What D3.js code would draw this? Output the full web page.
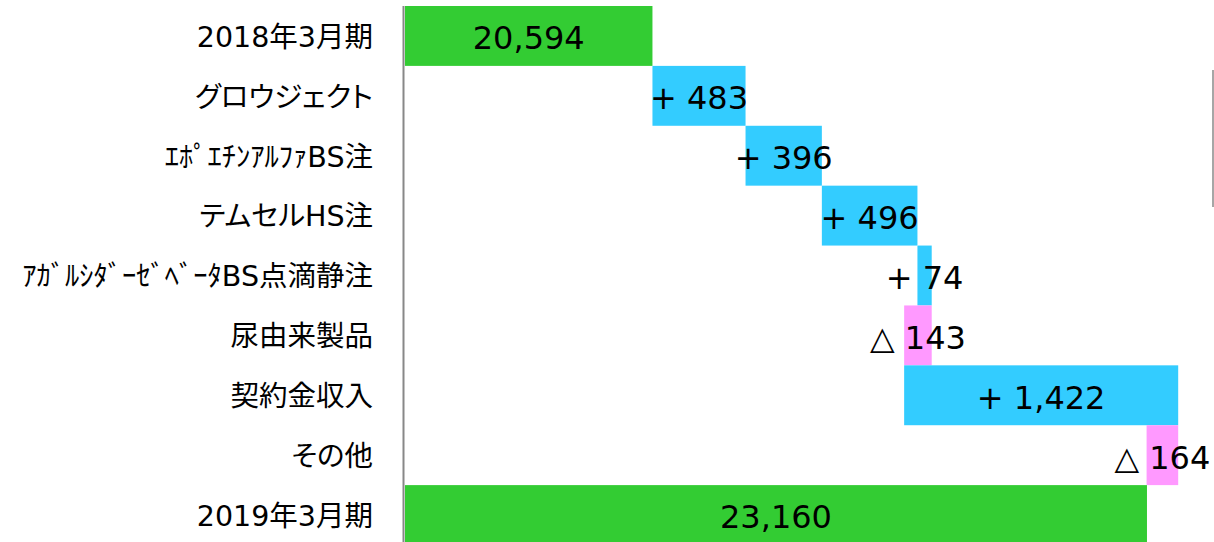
<!DOCTYPE html>
<html><head><meta charset="utf-8">
<script src="https://cdn.jsdelivr.net/npm/d3@7/dist/d3.min.js"></script>
<style>
html,body{margin:0;padding:0;background:#fff;}
svg{display:block;}
</style></head>
<body>
<svg id="chart" width="1214" height="542"></svg>
<script>
const categories = ["2018年3月期","グロウジェクト","ｴﾎﾟｴﾁﾝｱﾙﾌｧBS注","テムセルHS注","ｱｶﾞﾙｼﾀﾞｰｾﾞﾍﾞｰﾀBS点滴静注","尿由来製品","契約金収入","その他","2019年3月期"];
const values = [20594, 483, 396, 496, 74, -143, 1422, -164, 23160];
const kinds = ["total","delta","delta","delta","delta","delta","delta","delta","total"];
const valueLabels = ["20,594","+ 483","+ 396","+ 496","+ 74","△ 143","+ 1,422","△ 164","23,160"];
const axisDomain = [19310, 23500];

const colors = {total:"#33CC33", up:"#33CCFF", down:"#FF99FF"};

let running = 0;
const rows = categories.map((c,i)=>{
  let start, end, type;
  if (kinds[i]==="total") { start = axisDomain[0]; end = values[i]; running = values[i]; type="total"; }
  else { start = running; end = running + values[i]; running = end; type = values[i]>=0 ? "up":"down"; }
  return {cat:c, start, end, type, label:valueLabels[i]};
});

const svg = d3.select("#chart");
const x = d3.scaleLinear().domain(axisDomain).range([405, 1212.5]);
const y = d3.scaleBand().domain(categories).range([6, 545]).padding(0);

svg.selectAll("rect.bar").data(rows).join("rect")
  .attr("class","bar")
  .attr("x", d=>x(Math.min(d.start,d.end)))
  .attr("width", d=>Math.abs(x(d.end)-x(d.start)))
  .attr("y", d=>y(d.cat))
  .attr("height", y.bandwidth())
  .attr("fill", d=>colors[d.type]);

svg.append("line").attr("x1",403.5).attr("x2",403.5).attr("y1",6).attr("y2",542)
  .attr("stroke","#888").attr("stroke-width",2);

svg.selectAll("text.cat").data(rows).join("text")
  .attr("class","cat")
  .attr("x", 373)
  .attr("y", d=>y(d.cat)+y.bandwidth()/2)
  .attr("dy","0.38em")
  .attr("text-anchor","end")
  .style("font-family","'DejaVu Sans', 'Noto Sans CJK JP', sans-serif")
  .style("font-feature-settings","'palt' 1")
  .style("font-size","28.5px")
  .attr("fill","#000")
  .text(d=>d.cat);

svg.selectAll("text.val").data(rows).join("text")
  .attr("class","val")
  .attr("x", d=>(x(d.start)+x(d.end))/2)
  .attr("y", d=>y(d.cat)+y.bandwidth()/2)
  .attr("dy","0.42em")
  .attr("text-anchor","middle")
  .style("font-family","'DejaVu Sans', Verdana, sans-serif")
  .style("font-size","32px")
  .attr("fill","#000")
  .text(d=>d.label);

svg.append("line").attr("x1",1213).attr("x2",1213).attr("y1",70).attr("y2",207)
  .attr("stroke","#888").attr("stroke-width",1.5);
</script>
</body></html>
